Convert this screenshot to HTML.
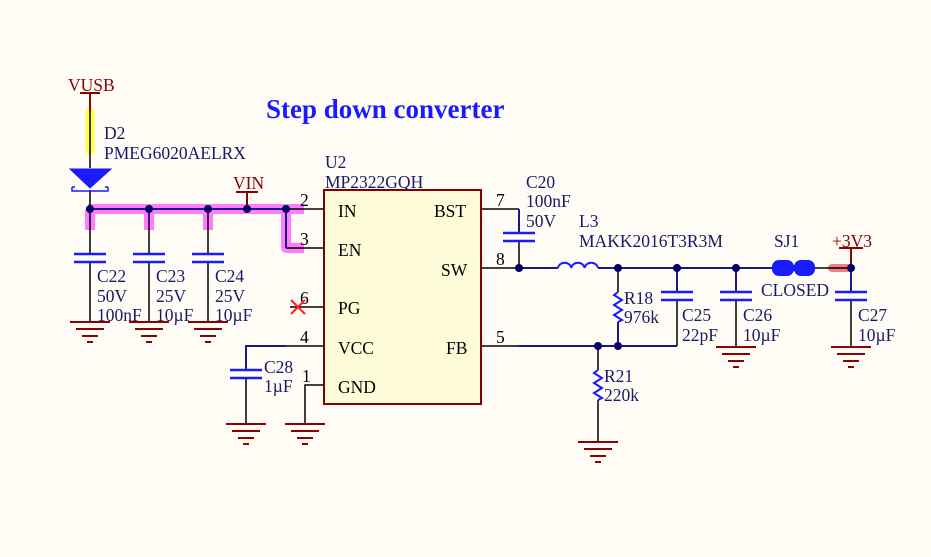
<!DOCTYPE html>
<html><head><meta charset="utf-8"><style>
body{margin:0;background:#fffcf6;}
svg{display:block;font-family:"Liberation Serif",serif;}
</style></head><body>
<svg width="931" height="557" viewBox="0 0 931 557" xmlns="http://www.w3.org/2000/svg">
<rect width="931" height="557" fill="#fffcf6"/>
<defs>
<g id="gnd" stroke="#8b0000" stroke-width="2">
<line x1="-20" y1="0" x2="20" y2="0"/><line x1="-14" y1="7" x2="14" y2="7"/><line x1="-8" y1="14" x2="8" y2="14"/><line x1="-3" y1="20" x2="3" y2="20"/>
</g>
<g id="cap" stroke="#1a1aff" stroke-width="2.5"><line x1="-16" y1="0" x2="16" y2="0"/><line x1="-16" y1="8" x2="16" y2="8"/></g>
</defs>
<!-- highlights -->
<g stroke="#ff66ff" stroke-width="10" fill="none" stroke-linejoin="round" opacity="0.85">
<path d="M88 209 H304"/><path d="M90 209 V230"/><path d="M149 209 V230"/><path d="M208 209 V230"/>
<path d="M286 209 V248 H304"/>
</g>
<line x1="90" y1="112" x2="90" y2="150" stroke="#ffff44" stroke-width="9" stroke-linecap="round"/>
<line x1="832" y1="268" x2="850" y2="268" stroke="#f08080" stroke-width="8" stroke-linecap="round"/>

<text x="266" y="118" font-size="27" font-weight="bold" fill="#1a1aff">Step down converter</text>

<!-- chip -->
<rect x="324" y="190" width="157" height="214" fill="#fdfbd8" stroke="#800000" stroke-width="2"/>
<g font-size="17.5" fill="#000">
<text x="338" y="217">IN</text><text x="338" y="256">EN</text><text x="338" y="314">PG</text><text x="338" y="354">VCC</text><text x="338" y="393">GND</text>
<text x="434" y="217">BST</text><text x="441" y="276">SW</text><text x="446" y="354">FB</text>
<text x="300" y="206">2</text><text x="300" y="245">3</text><text x="300" y="304">6</text><text x="300" y="343">4</text><text x="302" y="382">1</text>
<text x="496" y="206">7</text><text x="496" y="265">8</text><text x="496" y="343">5</text>
</g>
<g font-size="17.5" fill="#1a1a66">
<text x="325" y="168">U2</text><text x="325" y="188">MP2322GQH</text>
<text x="104" y="139">D2</text><text x="104" y="159">PMEG6020AELRX</text>
<text x="97" y="282">C22</text><text x="97" y="302">50V</text><text x="97" y="321">100nF</text>
<text x="156" y="282">C23</text><text x="156" y="302">25V</text><text x="156" y="321">10µF</text>
<text x="215" y="282">C24</text><text x="215" y="302">25V</text><text x="215" y="321">10µF</text>
<text x="526" y="188">C20</text><text x="526" y="207">100nF</text><text x="526" y="227">50V</text>
<text x="579" y="227">L3</text><text x="579" y="247">MAKK2016T3R3M</text>
<text x="624" y="304">R18</text><text x="624" y="323">976k</text>
<text x="682" y="321">C25</text><text x="682" y="341">22pF</text>
<text x="743" y="321">C26</text><text x="743" y="341">10µF</text>
<text x="774" y="247">SJ1</text><text x="761" y="296">CLOSED</text>
<text x="858" y="321">C27</text><text x="858" y="341">10µF</text>
<text x="264" y="373">C28</text><text x="264" y="392">1µF</text>
<text x="604" y="382">R21</text><text x="604" y="401">220k</text>
</g>
<g font-size="17.5" fill="#8b0000">
<text x="68" y="91">VUSB</text><text x="233" y="189">VIN</text><text x="832" y="247">+3V3</text>
</g>

<!-- wires black -->
<g stroke="#000" stroke-width="1.5" fill="none">
<path d="M286 209 H324"/><path d="M286 248 H324"/><path d="M290 307 H324"/><path d="M286 346 H324"/><path d="M305 424 V385 H324"/>
<path d="M481 209 H519"/><path d="M481 268 H519"/><path d="M481 346 H519"/>
<path d="M90 190 V209"/><path d="M90 112 V168"/>
<path d="M90 209 V254 M149 209 V254 M208 209 V254"/>
<path d="M90 262 V322 M149 262 V322 M208 262 V322"/>
<path d="M519 241 V268"/>
<path d="M618 268 V292 M618 322 V346"/><path d="M598 346 V370 M598 400 V442"/>
<path d="M677 300 V346"/><path d="M736 300 V347"/><path d="M851 300 V347"/>
<path d="M246 378 V424"/>
<path d="M815 268 H851"/>
</g>
<!-- wires navy -->
<g stroke="#1a1a80" stroke-width="2" fill="none">
<path d="M90 209 H286"/><path d="M286 209 V248"/>
<path d="M519 209 V233"/><path d="M519 268 H558 M598 268 H772"/>
<path d="M519 346 H677"/><path d="M618 346 V322"/>
<path d="M677 268 V292"/><path d="M736 268 V292"/><path d="M851 268 V292"/>
<path d="M286 346 H246 V370"/>
</g>
<!-- power stubs -->
<g stroke="#8b0000" stroke-width="2">
<line x1="80" y1="93" x2="100" y2="93"/><line x1="90" y1="93" x2="90" y2="112"/>
<line x1="236" y1="192" x2="258" y2="192"/><line x1="247" y1="192" x2="247" y2="209"/>
<line x1="839" y1="248" x2="863" y2="248"/><line x1="851" y1="248" x2="851" y2="268"/>
</g>
<!-- diode -->
<polygon points="70,169 111,169 90,188" fill="#1a1aff" stroke="#1a1aff"/>
<path d="M72 187 V191 H108 V187 M72 187 H75 M108 187 H105" stroke="#1a1aff" stroke-width="1.5" fill="none"/>
<!-- caps -->
<use href="#cap" x="90" y="254"/><use href="#cap" x="149" y="254"/><use href="#cap" x="208" y="254"/>
<use href="#cap" x="519" y="233"/><use href="#cap" x="677" y="292"/><use href="#cap" x="736" y="292"/><use href="#cap" x="851" y="292"/><use href="#cap" x="246" y="370"/>
<!-- grounds -->
<use href="#gnd" x="90" y="322"/><use href="#gnd" x="149" y="322"/><use href="#gnd" x="208" y="322"/>
<use href="#gnd" x="246" y="424"/><use href="#gnd" x="305" y="424"/><use href="#gnd" x="598" y="442"/>
<use href="#gnd" x="736" y="347"/><use href="#gnd" x="851" y="347"/>
<!-- inductor -->
<path d="M558 268 a6.7 6 0 0 1 13.3 0 a6.7 6 0 0 1 13.3 0 a6.7 6 0 0 1 13.3 0" stroke="#1a1aff" stroke-width="2" fill="none"/>
<!-- resistors -->
<g stroke="#1a1aff" stroke-width="2" fill="none">
<path d="M618 292 l-4 3 l8 5 l-8 5 l8 5 l-8 5 l8 5 l-4 2"/>
<path d="M598 370 l-4 3 l8 5 l-8 5 l8 5 l-8 5 l8 5 l-4 2"/>
</g>
<!-- SJ1 -->
<rect x="772" y="260" width="22" height="16" rx="7" fill="#1a1aff"/>
<rect x="794" y="260" width="21" height="16" rx="7" fill="#1a1aff"/>
<rect x="788" y="265" width="12" height="6" fill="#1a1aff"/>
<!-- PG X -->
<g stroke="#ff2020" stroke-width="2"><line x1="291" y1="300" x2="305" y2="314"/><line x1="305" y1="300" x2="291" y2="314"/></g>
<!-- dots -->
<g fill="#000066">
<circle cx="90" cy="209" r="4"/><circle cx="149" cy="209" r="4"/><circle cx="208" cy="209" r="4"/><circle cx="247" cy="209" r="4"/><circle cx="286" cy="209" r="4"/>
<circle cx="519" cy="268" r="4"/><circle cx="618" cy="268" r="4"/><circle cx="677" cy="268" r="4"/><circle cx="736" cy="268" r="4"/><circle cx="851" cy="268" r="4"/>
<circle cx="598" cy="346" r="4"/><circle cx="618" cy="346" r="4"/>
</g>
</svg>
</body></html>
